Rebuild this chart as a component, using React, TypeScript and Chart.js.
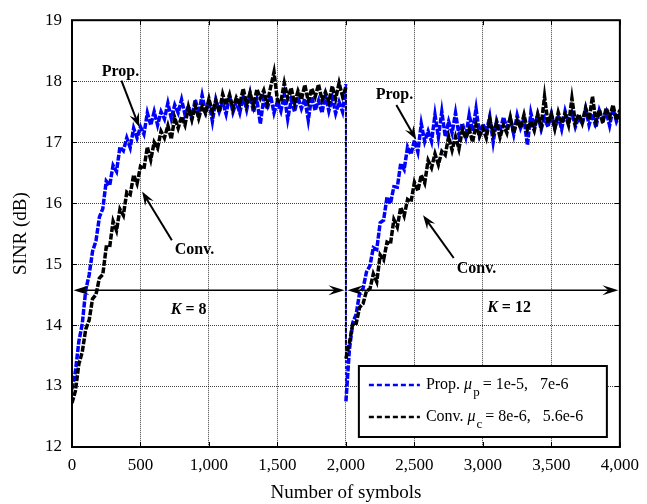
import React, { useEffect, useRef } from 'react';
import { Chart, registerables } from 'chart.js';

Chart.register(...registerables);

// ---------- data ----------
const symbolsK8 = [
  0, 25, 50, 75, 100, 125, 150, 175, 200, 225, 250, 275, 300, 325, 350, 375, 400, 425, 450, 475,
  500, 525, 550, 575, 600, 625, 650, 675, 700, 725, 750, 775, 800, 825, 850, 875, 900, 925, 950, 975,
  1000, 1025, 1050, 1075, 1100, 1125, 1150, 1175, 1200, 1225, 1250, 1275, 1300, 1325, 1350, 1375, 1400, 1425, 1450, 1475,
  1500, 1525, 1550, 1575, 1600, 1625, 1650, 1675, 1700, 1725, 1750, 1775, 1800, 1825, 1850, 1875, 1900, 1925, 1950, 1975,
  2000,
];
const symbolsK12 = [
  2000, 2025, 2050, 2075, 2100, 2125, 2150, 2175, 2200, 2225, 2250, 2275, 2300, 2325, 2350, 2375, 2400, 2425, 2450, 2475,
  2500, 2525, 2550, 2575, 2600, 2625, 2650, 2675, 2700, 2725, 2750, 2775, 2800, 2825, 2850, 2875, 2900, 2925, 2950, 2975,
  3000, 3025, 3050, 3075, 3100, 3125, 3150, 3175, 3200, 3225, 3250, 3275, 3300, 3325, 3350, 3375, 3400, 3425, 3450, 3475,
  3500, 3525, 3550, 3575, 3600, 3625, 3650, 3675, 3700, 3725, 3750, 3775, 3800, 3825, 3850, 3875, 3900, 3925, 3950, 3975,
  4000,
];

const propK8 = [
  12.95, 13.24, 13.73, 14.02, 14.57, 14.82, 15.21, 15.38, 15.77, 15.91,
  16.36, 16.29, 16.62, 16.52, 16.92, 16.86, 17.07, 16.91, 17.23, 17.07,
  17.25, 17.13, 17.48, 17.28, 17.5, 17.28, 17.5, 17.38, 17.64, 17.39,
  17.61, 17.48, 17.7, 17.45, 17.59, 17.4, 17.7, 17.47, 17.77, 17.5,
  17.66, 17.34, 17.7, 17.5, 17.66, 17.46, 17.76, 17.49, 17.66, 17.48,
  17.75, 17.53, 17.8, 17.49, 17.7, 17.3, 17.72, 17.54, 17.76, 17.48,
  17.67, 17.51, 17.78, 17.38, 17.69, 17.5, 17.74, 17.55, 17.71, 17.36,
  17.75, 17.52, 17.68, 17.48, 17.77, 17.51, 17.73, 17.47, 17.66, 17.5,
  17.95,
];
const propK12 = [
  12.75, 13.59, 14.04, 14.18, 14.53, 14.6, 14.87, 14.97, 15.27, 15.24,
  15.68, 15.72, 16.1, 15.99, 16.27, 16.26, 16.65, 16.55, 16.92, 16.8,
  17.03, 16.84, 17.3, 17.01, 17.18, 17.01, 17.45, 17.08, 17.5, 17.09,
  17.34, 17.15, 17.48, 17.12, 17.31, 17.09, 17.45, 17.18, 17.55, 17.13,
  17.3, 17.17, 17.42, 17.0, 17.35, 17.18, 17.41, 17.24, 17.39, 17.13,
  17.44, 17.23, 17.38, 16.95, 17.48, 17.24, 17.45, 17.21, 17.39, 17.25,
  17.47, 17.23, 17.42, 17.21, 17.51, 17.32, 17.49, 17.25, 17.41, 17.3,
  17.55, 17.28, 17.47, 17.24, 17.52, 17.37, 17.5, 17.27, 17.55, 17.34,
  17.47,
];
const convK8 = [
  12.72, 12.92, 13.36, 13.56, 13.93, 14.08, 14.43, 14.5, 14.77, 14.83,
  15.28, 15.28, 15.7, 15.55, 15.9, 15.8, 16.18, 16.14, 16.46, 16.32,
  16.6, 16.56, 16.92, 16.71, 17.0, 16.9, 17.18, 17.07, 17.27, 17.05,
  17.4, 17.23, 17.42, 17.28, 17.58, 17.37, 17.6, 17.39, 17.59, 17.47,
  17.71, 17.49, 17.68, 17.49, 17.79, 17.61, 17.78, 17.55, 17.73, 17.62,
  17.88, 17.62, 17.81, 17.59, 17.87, 17.72, 17.85, 17.63, 17.9, 18.15,
  17.68, 17.66, 17.97, 17.72, 17.89, 17.64, 17.84, 17.7, 17.94, 17.67,
  17.88, 17.74, 17.95, 17.69, 17.82, 17.66, 17.92, 17.71, 17.97, 17.75,
  17.89,
];
const convK12 = [
  13.45, 13.7, 14.03, 14.03, 14.29, 14.35, 14.56, 14.59, 14.84, 14.71,
  15.15, 15.07, 15.36, 15.33, 15.73, 15.61, 15.93, 15.79, 16.06, 16.02,
  16.34, 16.2, 16.46, 16.33, 16.7, 16.58, 16.81, 16.63, 16.85, 16.79,
  17.09, 16.87, 17.09, 16.89, 17.2, 17.06, 17.21, 17.0, 17.29, 17.09,
  17.23, 17.07, 17.38, 17.14, 17.32, 17.08, 17.28, 17.15, 17.41, 17.15,
  17.36, 17.23, 17.45, 17.2, 17.34, 17.19, 17.46, 17.26, 17.75, 17.31,
  17.46, 17.22, 17.49, 17.31, 17.46, 17.28, 17.72, 17.32, 17.46, 17.31,
  17.56, 17.37, 17.75, 17.34, 17.53, 17.31, 17.56, 17.41, 17.61, 17.36,
  17.53,
];

const xTickLabels = ['0', '500', '1,000', '1,500', '2,000', '2,500', '3,000', '3,500', '4,000'];
const yTickLabels = ['12', '13', '14', '15', '16', '17', '18', '19'];

const legendLabels = ['Prop.', 'Conv.'];
const legendSubs = ['p', 'c'];
const legendValues = ['= 1e-5,   7e-6', '= 8e-6,   5.6e-6'];
const seriesColors = ['#0000ff', '#000000'];

// annotation labels (data coordinates)
const labelTexts = ['Prop.', 'Conv.', 'Prop.', 'Conv.'];
const labelX = [354, 895, 2354, 2953];
const labelY = [18.16, 15.23, 17.77, 14.92];
// slanted arrows: tail -> tip (data coordinates)
const arrowTailX = [361, 729, 2368, 2787];
const arrowTailY = [18.01, 15.39, 17.61, 15.1];
const arrowTipX = [491, 512, 2513, 2563];
const arrowTipY = [17.25, 16.19, 17.04, 15.8];
// K spans
const spanNames = ['8', '12'];
const spanStart = [0, 2000];
const spanEnd = [2000, 4000];
const spanY = 14.57;
const spanLabelX = [852, 3191];
const spanLabelY = [14.25, 14.28];

const FONT = '"Liberation Serif", "Times New Roman", serif';

function toPoints(xs: number[], ys: number[]) {
  return xs.map((x, i) => ({ x, y: ys[i] }));
}

function arrowHead(ctx: CanvasRenderingContext2D, tipX: number, tipY: number, fromX: number, fromY: number, len: number, halfW: number) {
  const ang = Math.atan2(tipY - fromY, tipX - fromX);
  const c = Math.cos(ang);
  const s = Math.sin(ang);
  const bx = tipX - len * c;
  const by = tipY - len * s;
  const nx = tipX - len * 0.62 * c;
  const ny = tipY - len * 0.62 * s;
  ctx.beginPath();
  ctx.moveTo(tipX, tipY);
  ctx.lineTo(bx - halfW * s, by + halfW * c);
  ctx.lineTo(nx, ny);
  ctx.lineTo(bx + halfW * s, by - halfW * c);
  ctx.closePath();
  ctx.fill();
}

function drawArrow(ctx: CanvasRenderingContext2D, x1: number, y1: number, x2: number, y2: number, both: boolean, lw: number, len: number, halfW: number) {
  const ang = Math.atan2(y2 - y1, x2 - x1);
  const c = Math.cos(ang);
  const s = Math.sin(ang);
  const sx = both ? x1 + len * 0.6 * c : x1;
  const sy = both ? y1 + len * 0.6 * s : y1;
  ctx.lineWidth = lw;
  ctx.beginPath();
  ctx.moveTo(sx, sy);
  ctx.lineTo(x2 - len * 0.6 * c, y2 - len * 0.6 * s);
  ctx.stroke();
  arrowHead(ctx, x2, y2, x1, y1, len, halfW);
  if (both) arrowHead(ctx, x1, y1, x2, y2, len, halfW);
}

const overlayPlugin = {
  id: 'overlay',
  afterDatasetsDraw(chart: any) {
    const { ctx, chartArea } = chart;
    const xs = chart.scales.x;
    const ys = chart.scales.y;
    ctx.save();
    ctx.fillStyle = '#000';
    ctx.strokeStyle = '#000';
    ctx.setLineDash([]);

    // inward tick marks on all four sides
    ctx.lineWidth = 1;
    ctx.beginPath();
    xs.ticks.forEach((t: any) => {
      const px = Math.round(xs.getPixelForValue(t.value)) + 0.5;
      ctx.moveTo(px, chartArea.bottom);
      ctx.lineTo(px, chartArea.bottom - 5);
      ctx.moveTo(px, chartArea.top);
      ctx.lineTo(px, chartArea.top + 5);
    });
    ys.ticks.forEach((t: any) => {
      const py = Math.round(ys.getPixelForValue(t.value)) + 0.5;
      ctx.moveTo(chartArea.left, py);
      ctx.lineTo(chartArea.left + 5, py);
      ctx.moveTo(chartArea.right, py);
      ctx.lineTo(chartArea.right - 5, py);
    });
    ctx.stroke();

    // K spans (double arrows)
    const py = ys.getPixelForValue(spanY);
    spanNames.forEach((name, i) => {
      const a = xs.getPixelForValue(spanStart[i]) + 1.5;
      const b = xs.getPixelForValue(spanEnd[i]) - 1.5;
      drawArrow(ctx, a, py, b, py, true, 1.5, 16, 5);
      const cx = xs.getPixelForValue(spanLabelX[i]);
      const cy = ys.getPixelForValue(spanLabelY[i]);
      ctx.textBaseline = 'middle';
      ctx.textAlign = 'left';
      ctx.font = `italic bold 16px ${FONT}`;
      const wK = ctx.measureText('K').width;
      ctx.font = `bold 16px ${FONT}`;
      const rest = ' = ' + name;
      const wR = ctx.measureText(rest).width;
      const startX = cx - (wK + wR) / 2;
      ctx.font = `italic bold 16px ${FONT}`;
      ctx.fillText('K', startX, cy);
      ctx.font = `bold 16px ${FONT}`;
      ctx.fillText(rest, startX + wK, cy);
    });

    // slanted arrows + labels
    labelTexts.forEach((txt, i) => {
      drawArrow(
        ctx,
        xs.getPixelForValue(arrowTailX[i]),
        ys.getPixelForValue(arrowTailY[i]),
        xs.getPixelForValue(arrowTipX[i]),
        ys.getPixelForValue(arrowTipY[i]),
        false,
        2,
        14,
        5
      );
      ctx.font = `bold 16px ${FONT}`;
      ctx.textAlign = 'center';
      ctx.textBaseline = 'middle';
      ctx.fillText(txt, xs.getPixelForValue(labelX[i]), ys.getPixelForValue(labelY[i]));
    });

    // legend
    const w = 248;
    const h = 71;
    const right = chartArea.right - 13;
    const bottom = chartArea.bottom - 10;
    const left = right - w;
    const top = bottom - h;
    ctx.fillStyle = '#fff';
    ctx.fillRect(left, top, w, h);
    ctx.lineWidth = 2;
    ctx.strokeStyle = '#000';
    ctx.strokeRect(left, top, w, h);
    legendLabels.forEach((lab, i) => {
      const yl = top + 19 + i * 32;
      ctx.setLineDash([5, 3]);
      ctx.lineWidth = 2.5;
      ctx.strokeStyle = seriesColors[i];
      ctx.beginPath();
      ctx.moveTo(left + 10, yl);
      ctx.lineTo(left + 61, yl);
      ctx.stroke();
      ctx.setLineDash([]);
      ctx.fillStyle = '#000';
      ctx.textAlign = 'left';
      ctx.textBaseline = 'alphabetic';
      const base = yl + 4;
      let tx = left + 67;
      ctx.font = `16px ${FONT}`;
      const first = lab + ' ';
      ctx.fillText(first, tx, base);
      tx += ctx.measureText(first).width;
      ctx.font = `italic 16px ${FONT}`;
      ctx.fillText('\u03bc', tx, base);
      tx += ctx.measureText('\u03bc').width + 1;
      ctx.font = `13px ${FONT}`;
      ctx.fillText(legendSubs[i], tx, base + 7);
      tx += ctx.measureText(legendSubs[i]).width + 3;
      ctx.font = `16px ${FONT}`;
      ctx.fillText(legendValues[i], tx, base);
    });

    // frame
    ctx.lineWidth = 2;
    ctx.strokeStyle = '#000';
    ctx.strokeRect(chartArea.left, chartArea.top, chartArea.right - chartArea.left, chartArea.bottom - chartArea.top);
    ctx.restore();
  },
};

// thinner, finely dashed vertical drop where the two runs join
const isDrop = (c: any) => c.p0.parsed.x === c.p1.parsed.x;

export default function App() {
  const ref = useRef<HTMLCanvasElement>(null);
  useEffect(() => {
    document.body.style.margin = '0';
    const canvas = ref.current;
    if (!canvas) return;
    const chart = new Chart(canvas, {
      type: 'line',
      data: {
        datasets: [
          {
            label: 'Prop.',
            data: toPoints(symbolsK8, propK8).concat(toPoints(symbolsK12, propK12)),
            borderColor: seriesColors[0],
            borderWidth: 3.5,
            borderDash: [6, 1.5],
            pointRadius: 0,
            tension: 0,
            fill: false,
            order: 2,
            segment: {
              borderWidth: (c: any) => (isDrop(c) ? 2 : undefined),
              borderDash: (c: any) => (isDrop(c) ? [3, 3] : undefined),
            },
          },
          {
            label: 'Conv.',
            data: toPoints(symbolsK8, convK8).concat(toPoints(symbolsK12, convK12)),
            borderColor: seriesColors[1],
            borderWidth: 3.5,
            borderDash: [6, 1.5],
            pointRadius: 0,
            tension: 0,
            fill: false,
            order: 1,
            segment: {
              borderWidth: (c: any) => (isDrop(c) ? 2 : undefined),
              borderDash: (c: any) => (isDrop(c) ? [3, 3] : undefined),
            },
          },
        ],
      },
      options: {
        animation: false,
        responsive: true,
        maintainAspectRatio: false,
        layout: { padding: { top: 14, right: 21, left: 0, bottom: 0 } },
        plugins: {
          legend: { display: false },
          tooltip: { enabled: false },
        },
        scales: {
          x: {
            type: 'linear',
            min: 0,
            max: 4000,
            ticks: {
              stepSize: 500,
              color: '#000',
              font: { family: FONT, size: 17 },
              padding: 8,
              maxRotation: 0,
              callback: (_v: any, i: number) => xTickLabels[i],
            },
            grid: { color: 'rgba(0,0,0,0.75)', lineWidth: 1, drawTicks: false },
            border: { display: false, dash: [1, 1] },
            title: {
              display: true,
              text: 'Number of symbols',
              color: '#000',
              font: { family: FONT, size: 19 },
              padding: { top: 0, bottom: 0 },
            },
            afterFit: (s: any) => {
              s.height = 57;
            },
          },
          y: {
            min: 12,
            max: 19,
            ticks: {
              stepSize: 1,
              color: '#000',
              font: { family: FONT, size: 17 },
              padding: 10,
              callback: (_v: any, i: number) => yTickLabels[i],
            },
            grid: { color: 'rgba(0,0,0,0.75)', lineWidth: 1, drawTicks: false },
            border: { display: false, dash: [1, 1] },
            title: {
              display: true,
              text: 'SINR (dB)',
              color: '#000',
              font: { family: FONT, size: 19 },
              padding: { top: 10, bottom: 0 },
            },
            afterFit: (s: any) => {
              s.width = 72;
            },
          },
        },
      },
      plugins: [overlayPlugin],
    } as any);
    return () => chart.destroy();
  }, []);
  return (
    <div style={{ width: 647, height: 504, position: 'relative' }}>
      <canvas ref={ref} />
    </div>
  );
}
